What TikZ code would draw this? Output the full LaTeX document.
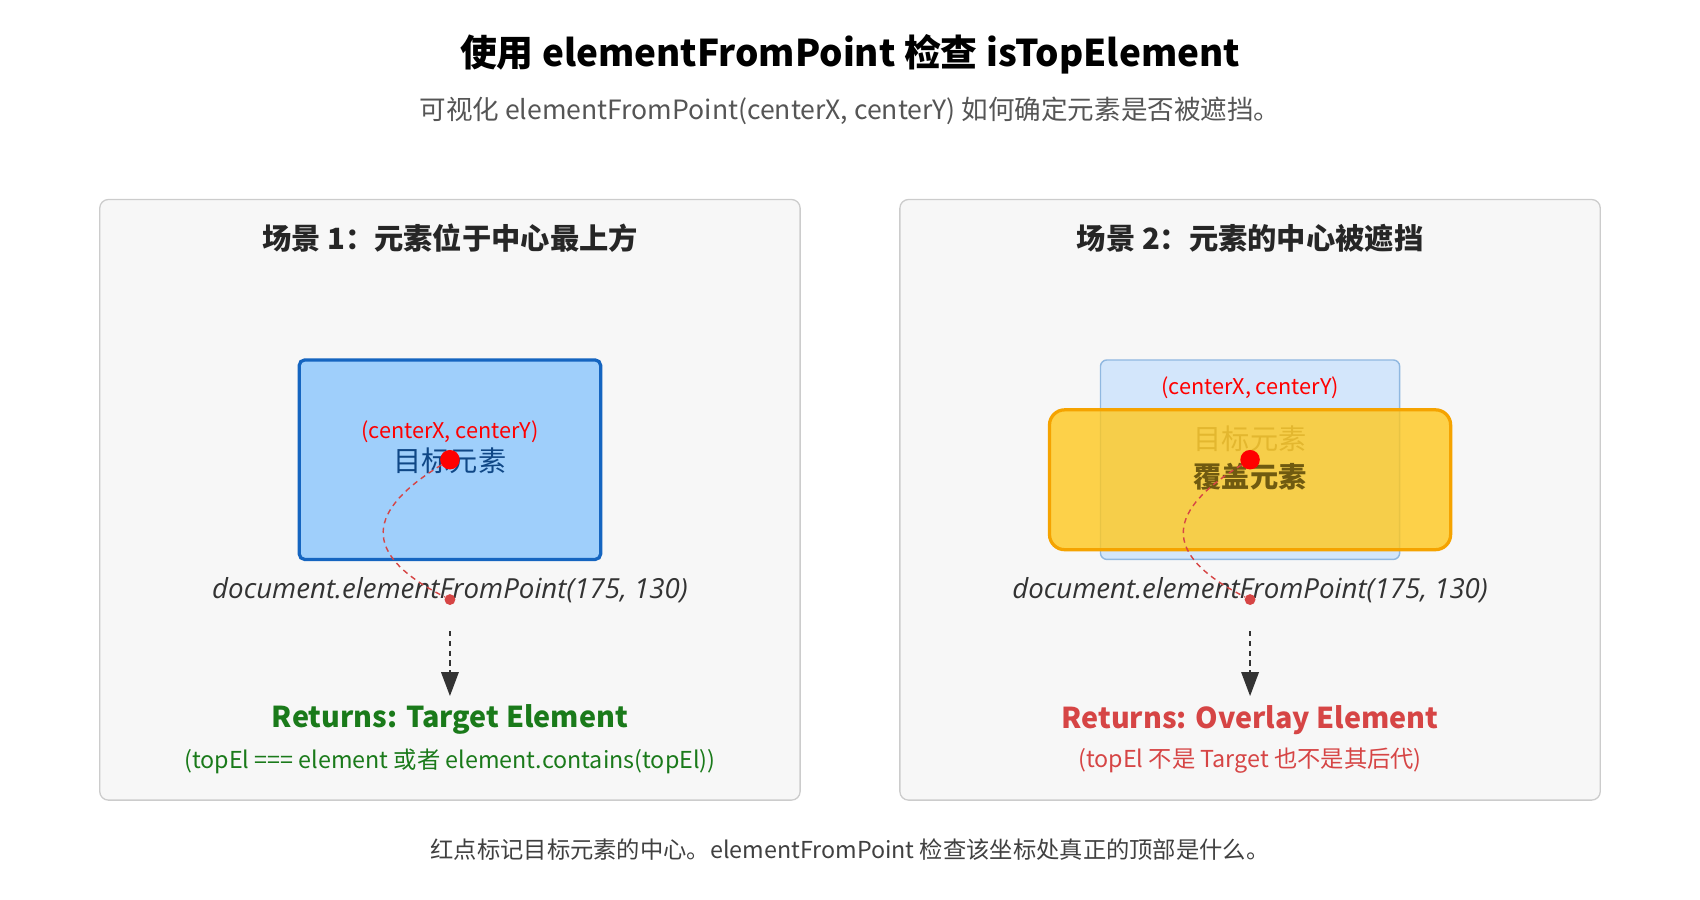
\documentclass[tikz,border=0pt]{standalone}
\usepackage{fontspec}
\setmainfont{Noto Sans CJK SC}
\newfontfamily\codefont{Open Sans}
\usetikzlibrary{arrows.meta}
\definecolor{panelbg}{HTML}{F7F7F7}
\definecolor{panelbd}{HTML}{CCCCCC}
\definecolor{tblue}{HTML}{9FCFFB}
\definecolor{tbluebd}{HTML}{1565C0}
\definecolor{lblue}{HTML}{D3E6FB}
\definecolor{lbluebd}{HTML}{90B8E0}
\definecolor{ovl}{HTML}{FFC81E}
\definecolor{ovlbd}{HTML}{F5A300}
\definecolor{okgreen}{HTML}{1A7A1A}
\definecolor{badred}{HTML}{D64545}
\definecolor{dotred}{HTML}{FF0000}
\definecolor{txtgray}{HTML}{555555}
\definecolor{olivetxt}{HTML}{705A10}
\newcommand{\fs}[1]{\fontsize{#1}{#1}\selectfont}
\begin{document}
\begin{tikzpicture}[x=1pt,y=-1pt,
  panel/.style={draw=panelbd,fill=panelbg,rounded corners=8pt,line width=1.2pt},
  ptitle/.style={font=\fs{27}\bfseries,text=black!85},
  code/.style={font=\codefont\itshape\fs{25.5},text=black!80},
  dot/.style={circle,fill=dotred,inner sep=0pt,minimum size=18pt},
  sdot/.style={circle,fill=badred,inner sep=0pt,minimum size=10pt},
  curve/.style={draw=badred,dash pattern=on 5pt off 4pt,line width=1.3pt},
  down/.style={draw=black!80,dash pattern=on 5pt off 4pt,line width=1.8pt,-{Triangle[length=22pt,width=16pt]}}]
\useasboundingbox (0,0) rectangle (1568,830);
\node[font=\fs{34}\bfseries] (title) at (784,50) {使用 elementFromPoint 检查 isTopElement};
\node[font=\fs{24.5},text=txtgray] (sub) at (784,102) {可视化 elementFromPoint(centerX, centerY) 如何确定元素是否被遮挡。};
% panel 1
\draw[panel] (92,184) rectangle (738,738);
\node[ptitle] (t1) at (415,220) {场景 1：元素位于中心最上方};
\draw[fill=tblue,draw=tbluebd,line width=3pt,rounded corners=5pt] (276,332) rectangle (554,516);
\node[font=\fs{20},text=dotred] (c1) at (415,398) {(centerX, centerY)};
\node[font=\fs{26},text=tbluebd!70!black] (e1) at (415,425) {目标元素};
\node[code] (code1) at (415,544) {document.elementFromPoint(175, 130)};
\node[dot] (d1) at (415,424) {};
\node[sdot] (s1) at (415,553) {};
\draw[curve] (d1) .. controls (340,470) and (330,510) .. (s1);
\coordinate (a1s) at (415,582);
\coordinate (a1e) at (415,642);
\draw[down] (a1s) -- (a1e);
\node[font=\fs{26.5}\bfseries,text=okgreen] (r1) at (415,664) {Returns: Target Element};
\node[font=\fs{21.5},text=okgreen] (q1) at (415,702) {(topEl === element 或者 element.contains(topEl))};
% panel 2
\draw[panel] (830,184) rectangle (1476,738);
\node[ptitle] (t2) at (1153,220) {场景 2：元素的中心被遮挡};
\draw[fill=lblue,draw=lbluebd,line width=1.3pt,rounded corners=6pt] (1015,332) rectangle (1291,516);
\node[font=\fs{20},text=dotred] (c2) at (1153,358) {(centerX, centerY)};
\node[font=\fs{26},text=black!55] (e2) at (1153,405) {目标元素};
\fill[ovl,opacity=0.8,rounded corners=14pt] (968,378) rectangle (1338,507);
\draw[draw=ovlbd,line width=3pt,rounded corners=14pt] (968,378) rectangle (1338,507);
\node[font=\fs{26}\bfseries,text=olivetxt] (o2) at (1153,440) {覆盖元素};
\node[code] (code2) at (1153,544) {document.elementFromPoint(175, 130)};
\node[dot] (d2) at (1153,424) {};
\node[sdot] (s2) at (1153,553) {};
\draw[curve] (d2) .. controls (1078,470) and (1068,510) .. (s2);
\coordinate (a2s) at (1153,582);
\coordinate (a2e) at (1153,642);
\draw[down] (a2s) -- (a2e);
\node[font=\fs{26.5}\bfseries,text=badred] (r2) at (1153,664) {Returns: Overlay Element};
\node[font=\fs{21.5},text=badred] (q2) at (1153,702) {(topEl 不是 Target 也不是其后代)};
\node[font=\fs{21.5},text=black!75] (foot) at (784,784) {红点标记目标元素的中心。elementFromPoint 检查该坐标处真正的顶部是什么。};
\end{tikzpicture}
\end{document}
